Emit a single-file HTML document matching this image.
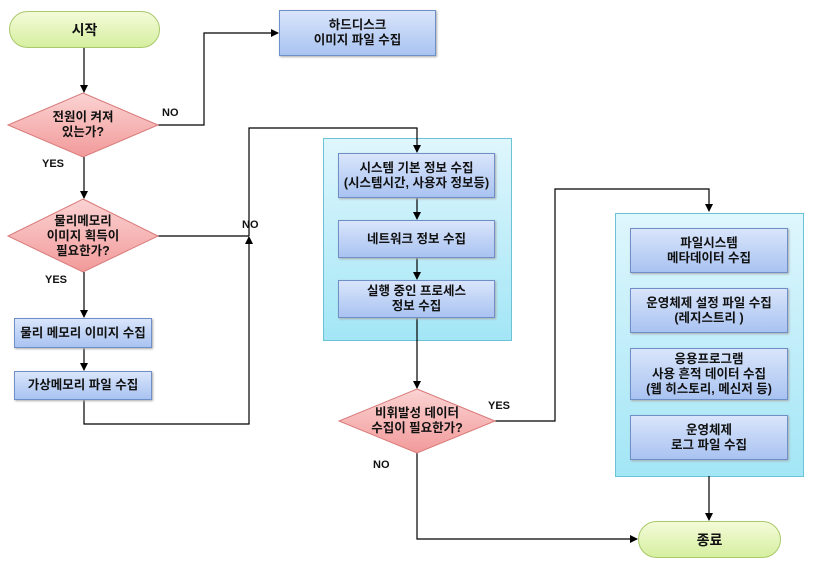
<!DOCTYPE html><html><head><meta charset="utf-8"><style>
body{margin:0;width:813px;height:573px;background:#fff;position:relative;overflow:hidden;font-family:"Liberation Sans","Noto Sans CJK KR",sans-serif;font-weight:bold;font-size:12.5px;color:#111}
.b{position:absolute;box-sizing:border-box;border:1px solid #6f8fc8;background:linear-gradient(#d9e5fb,#a9c3f1);display:flex;align-items:center;justify-content:center;text-align:center;line-height:15px;box-shadow:1px 1px 2px #aaa;white-space:nowrap}
.t{position:absolute;box-sizing:border-box;border:1px solid #a9c96a;border-radius:20px;background:linear-gradient(#f4fbd9,#d6efa0);display:flex;align-items:center;justify-content:center;font-size:14px}
.c{position:absolute;box-sizing:border-box;border:1px solid #6cc3d5;background:linear-gradient(#dff6fd,#a3e6f6)}
.l{position:absolute;font-size:11px}
.d{position:absolute;text-align:center;line-height:15px}
</style></head><body>
<div class="c" style="left:323px;top:138px;width:189px;height:203px"></div>
<div class="c" style="left:615px;top:213px;width:189px;height:264px"></div>
<svg width="813" height="573" style="position:absolute;left:0;top:0">
<defs><marker id="a" markerWidth="8" markerHeight="8" refX="7" refY="4" orient="auto" markerUnits="userSpaceOnUse"><path d="M0,0L8,4L0,8z" fill="#000"/></marker>
<linearGradient id="g" x1="0" y1="0" x2="0" y2="1"><stop offset="0" stop-color="#fbd3d3"/><stop offset="1" stop-color="#f29a9a"/></linearGradient></defs>
<g stroke="#000" stroke-width="1.2" fill="none">
<path d="M84,48V92" marker-end="url(#a)"/>
<path d="M84,157V198" marker-end="url(#a)"/>
<path d="M84,272V317" marker-end="url(#a)"/>
<path d="M84,348V370" marker-end="url(#a)"/>
<path d="M158,125H204V33H278" marker-end="url(#a)"/>
<path d="M158,236H249"/>
<path d="M84,400V424H249V237" marker-end="url(#a)"/>
<path d="M249,236V128H417V152" marker-end="url(#a)"/>
<path d="M417,198V219" marker-end="url(#a)"/>
<path d="M417,258V279" marker-end="url(#a)"/>
<path d="M417,318V388" marker-end="url(#a)"/>
<path d="M495,421H555V189H709V211" marker-end="url(#a)"/>
<path d="M417,452V539H637" marker-end="url(#a)"/>
<path d="M709,476V520" marker-end="url(#a)"/>
</g>
<g fill="url(#g)" stroke="#d97a7a">
<polygon points="83,93 158,125 83,157 8,125"/>
<polygon points="83,199 158,236 83,272 8,236"/>
<polygon points="417,389 495,421 417,453 339,421"/>
</g></svg>
<div class="t" style="left:9px;top:11px;width:151px;height:37px">시작</div>
<div class="t" style="left:638px;top:521px;width:143px;height:37px">종료</div>
<div class="b" style="left:279px;top:10px;width:157px;height:46px">하드디스크<br>이미지 파일 수집</div>
<div class="d" style="left:8px;top:110px;width:150px">전원이 켜져<br>있는가?</div>
<div class="d" style="left:8px;top:214px;width:150px">물리메모리<br>이미지 획득이<br>필요한가?</div>
<div class="d" style="left:339px;top:406px;width:156px">비휘발성 데이터<br>수집이 필요한가?</div>
<div class="b" style="left:14px;top:318px;width:138px;height:30px">물리 메모리 이미지 수집</div>
<div class="b" style="left:14px;top:371px;width:138px;height:29px">가상메모리 파일 수집</div>
<div class="b" style="left:338px;top:153px;width:157px;height:45px">시스템 기본 정보 수집<br>(시스템시간, 사용자 정보등)</div>
<div class="b" style="left:338px;top:220px;width:157px;height:38px">네트워크 정보 수집</div>
<div class="b" style="left:338px;top:280px;width:157px;height:38px">실행 중인 프로세스<br>정보 수집</div>
<div class="b" style="left:630px;top:228px;width:158px;height:45px">파일시스템<br>메타데이터 수집</div>
<div class="b" style="left:630px;top:288px;width:158px;height:45px">운영체제 설정 파일 수집<br>(레지스트리 )</div>
<div class="b" style="left:630px;top:348px;width:158px;height:52px">응용프로그램<br>사용 흔적 데이터 수집<br>(웹 히스토리, 메신저 등)</div>
<div class="b" style="left:630px;top:415px;width:158px;height:45px">운영체제<br>로그 파일 수집</div>
<div class="l" style="left:162px;top:107px">NO</div>
<div class="l" style="left:42px;top:158px">YES</div>
<div class="l" style="left:242px;top:219px">NO</div>
<div class="l" style="left:45px;top:274px">YES</div>
<div class="l" style="left:488px;top:400px">YES</div>
<div class="l" style="left:373px;top:459px">NO</div>
</body></html>
